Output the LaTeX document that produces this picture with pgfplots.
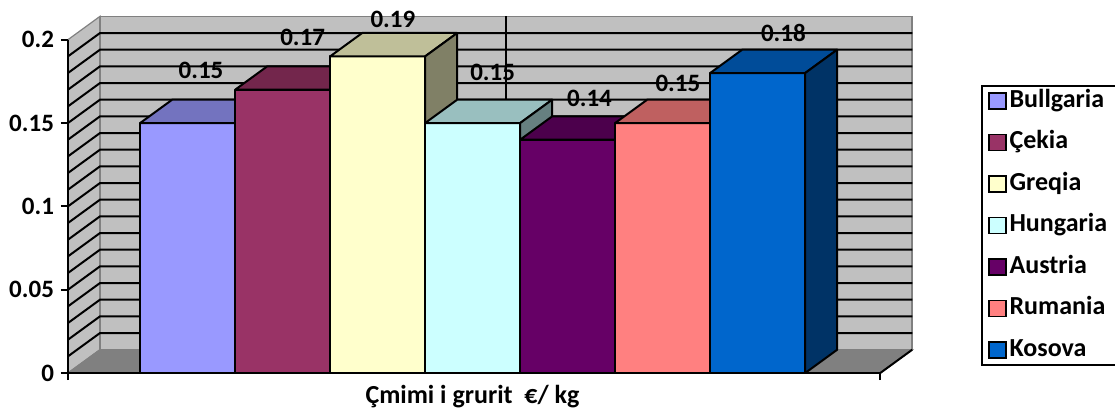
\documentclass[border=0pt]{standalone}
\usepackage{pgfplots}
\pgfplotsset{compat=1.18}
\usepackage{fontspec}
\setmainfont{Carlito}
\definecolor{c1}{HTML}{9999FF}\definecolor{t1}{HTML}{7373BF}\definecolor{s1}{HTML}{4D4D80}
\definecolor{c2}{HTML}{993366}\definecolor{t2}{HTML}{73264C}\definecolor{s2}{HTML}{4D1A33}
\definecolor{c3}{HTML}{FFFFCC}\definecolor{t3}{HTML}{BFBF99}\definecolor{s3}{HTML}{808066}
\definecolor{c4}{HTML}{CCFFFF}\definecolor{t4}{HTML}{99BFBF}\definecolor{s4}{HTML}{668080}
\definecolor{c5}{HTML}{660066}\definecolor{t5}{HTML}{4C004C}\definecolor{s5}{HTML}{330033}
\definecolor{c6}{HTML}{FF8080}\definecolor{t6}{HTML}{BF6060}\definecolor{s6}{HTML}{804040}
\definecolor{c7}{HTML}{0066CC}\definecolor{t7}{HTML}{004C99}\definecolor{s7}{HTML}{003366}
\definecolor{wallgray}{HTML}{C0C0C0}
\definecolor{floorgray}{HTML}{808080}
\definecolor{edgegray}{HTML}{808080}
% one 3-D bar: #1 left x, #2 value, #3 front, #4 top, #5 side colour
\newcommand\cube[5]{%
  \pgfmathsetmacro\xa{#1}%
  \pgfmathsetmacro\xb{#1+1}%
  \pgfmathsetmacro\xc{#1+0.337}%
  \pgfmathsetmacro\xd{#1+1.337}%
  \pgfmathsetmacro\vt{#2+0.014}%
  \edef\tmp{%
   \noexpand\addplot[forget plot,fill=#3,draw=black,line width=1pt,line join=round] coordinates {(\xa,0) (\xb,0) (\xb,#2) (\xa,#2)} -- cycle;
   \noexpand\addplot[forget plot,fill=#4,draw=black,line width=1pt,line join=round] coordinates {(\xa,#2) (\xc,\vt) (\xd,\vt) (\xb,#2)} -- cycle;
   \noexpand\addplot[forget plot,fill=#5,draw=black,line width=1pt,line join=round] coordinates {(\xb,0) (\xd,0.014) (\xd,\vt) (\xb,#2)} -- cycle;
  }\tmp}
\begin{document}
\begin{tikzpicture}
\begin{axis}[
  at={(0,0)}, anchor=south west,
  x=47.5pt, y=833.33pt,
  xmin=0, xmax=8.55, ymin=0, ymax=0.2,
  enlargelimits=false, clip=false,
  axis lines*=left, axis on top,
  axis line style={black, line width=1pt},
  tick style={black, line width=1pt},
  tick align=outside, major tick length=3.5pt,
  xtick={0,8.55}, xticklabels={},
  ytick={0,0.05,0.1,0.15,0.2},
  yticklabels={0,0.05,0.1,0.15,0.2},
  yticklabel style={font=\bfseries\fontsize{12.5}{15}\selectfont},
  legend image code/.code={\draw[#1,draw=black,line width=0.8pt] (0pt,-4pt) rectangle (8.5pt,4pt);},
  legend cell align=left,
  legend style={at={(1.124,0.864)}, anchor=north west, draw=black, line width=1pt,
    font=\bfseries\fontsize{13}{15}\selectfont, row sep=5.75pt, inner xsep=3pt, inner ysep=0pt,
    nodes={inner sep=1.5pt, text height=9pt, text depth=3pt}},
]
% walls and floor
\addplot[forget plot, fill=wallgray, draw=edgegray, line width=0.6pt] coordinates {(0,0) (0,0.2) (0.337,0.214) (0.337,0.014)} -- cycle;
\addplot[forget plot, fill=wallgray, draw=edgegray, line width=0.8pt] coordinates {(0.337,0.014) (0.337,0.214) (8.887,0.214) (8.887,0.014)} -- cycle;
\addplot[forget plot, fill=floorgray, draw=edgegray, line width=0.6pt] coordinates {(0,0) (8.55,0) (8.887,0.014) (0.337,0.014)} -- cycle;
\addplot[forget plot, black, line width=1pt] coordinates {(8.55,0) (8.887,0.014)};
% gridlines (side wall + back wall)
\pgfplotsinvokeforeach{1,...,19}{%
  \pgfmathsetmacro\ya{#1/100}%
  \pgfmathsetmacro\yb{#1/100+0.014}%
  \edef\tmp{\noexpand\addplot[forget plot,black,line width=1pt] coordinates {(0,\ya) (0.337,\yb) (8.887,\yb)};}\tmp
}
\addplot[forget plot, black, line width=1pt] coordinates {(4.612,0.014) (4.612,0.214)};
% bars
\cube{0.76}{0.15}{c1}{t1}{s1}
\cube{1.76}{0.17}{c2}{t2}{s2}
\cube{2.76}{0.19}{c3}{t3}{s3}
\cube{3.76}{0.15}{c4}{t4}{s4}
\cube{4.76}{0.14}{c5}{t5}{s5}
\cube{5.76}{0.15}{c6}{t6}{s6}
\cube{6.76}{0.18}{c7}{t7}{s7}
% data labels
\addplot[forget plot, draw=none, mark=none, nodes near coords, point meta=explicit symbolic,
  every node near coord/.append style={anchor=center, inner sep=0pt, font=\bfseries\fontsize{12.5}{15}\selectfont}]
  coordinates {(1.40,0.1818)[0.15] (2.47,0.2016)[0.17] (3.42,0.2124)[0.19] (4.47,0.1806)[0.15] (5.49,0.165)[0.14] (6.42,0.174)[0.15] (7.53,0.204)[0.18]};
% legend
\addlegendimage{fill=c1}\addlegendentry{Bullgaria}
\addlegendimage{fill=c2}\addlegendentry{Çekia}
\addlegendimage{fill=c3}\addlegendentry{Greqia}
\addlegendimage{fill=c4}\addlegendentry{Hungaria}
\addlegendimage{fill=c5}\addlegendentry{Austria}
\addlegendimage{fill=c6}\addlegendentry{Rumania}
\addlegendimage{fill=c7}\addlegendentry{Kosova}
\node[font=\bfseries\fontsize{13}{15}\selectfont, anchor=base] at (axis cs:4.258,-0.018) {Çmimi i grurit\ \ €/ kg};
\end{axis}
\pgfresetboundingbox
\path (-34pt,-23pt) rectangle (523.5pt,186.5pt);
\end{tikzpicture}
\end{document}
